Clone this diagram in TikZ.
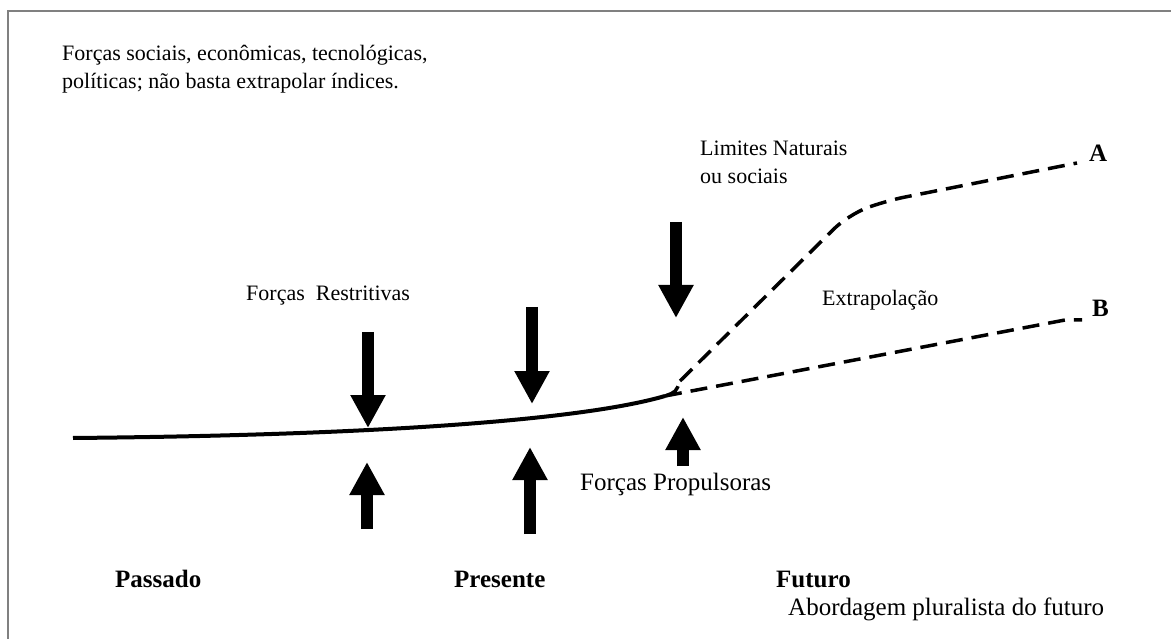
\documentclass[tikz,border=0pt]{standalone}
\usepackage{fontspec}
\setmainfont{Liberation Serif}
\usetikzlibrary{arrows.meta}

\tikzset{
    force/.style={line width=12pt, -{Triangle[length=33pt,width=33pt]}},
    trend/.style={line width=3.5pt, dash pattern=on 17pt off 9pt},
    label/.style={anchor=west, inner sep=0pt, font=\fontsize{22}{28}\selectfont},
    biglabel/.style={anchor=west, inner sep=0pt, font=\fontsize{25}{30}\selectfont},
    axis/.style={anchor=west, inner sep=0pt, font=\fontsize{25}{30}\selectfont\bfseries}
}

\begin{document}
\begin{tikzpicture}[x=1pt, y=-1pt]

% Frame
\useasboundingbox (0,0) rectangle (1171,639);
\draw[gray, line width=2pt] (8,639) -- (8,11) -- (1171,11);

% ===== Texts =====
\node[label, align=left] (forcas) at (62,69) {Forças sociais, econômicas, tecnológicas,\\políticas; não basta extrapolar índices.};
\node[label, align=left] (limites) at (700,162) {Limites Naturais\\ou sociais};
\node[label] (restr) at (246,296) {Forças~ Restritivas};
\node[label] (extrap) at (822,300) {Extrapolação};
\node[biglabel] (propul) at (580,484) {Forças Propulsoras};
\node[axis] (lblA) at (1089,153) {A};
\node[axis] (lblB) at (1092,308) {B};

% Time axis
\node[axis] (passado) at (115,579) {Passado};
\node[axis] (presente) at (454,579) {Presente};
\node[axis] (futuro) at (776,579) {Futuro};
\node[biglabel] (abord) at (788,609) {Abordagem pluralista do futuro};

% ===== Curve =====
\coordinate (start) at (73,438);
\coordinate (knee) at (665,396);
\draw[line width=4pt] (start) .. controls (400,435) and (590,418) .. (knee);

% Scenario A
\draw[trend] (knee) .. controls (676,392) .. (680,381);
\draw[trend, rounded corners=20pt] (680,381) -- (848,215) -- (885,201) -- (1077,163);
% Scenario B
\draw[trend] (knee) -- (1065,320) -- (1082,320);

% ===== Forces =====
% Restrictive (down)
\coordinate (d1) at (368,332);
\coordinate (d2) at (532,307);
\coordinate (d3) at (676,222);
\draw[force] (d1) -- ++(0,96);
\draw[force] (d2) -- ++(0,97);
\draw[force] (d3) -- ++(0,96);

% Propulsive (up)
\coordinate (u1) at (367,529);
\coordinate (u2) at (530,534);
\coordinate (u3) at (683,466);
\draw[force] (u1) -- ++(0,-67);
\draw[force] (u2) -- ++(0,-87);
\draw[force] (u3) -- ++(0,-49);

\end{tikzpicture}
\end{document}
